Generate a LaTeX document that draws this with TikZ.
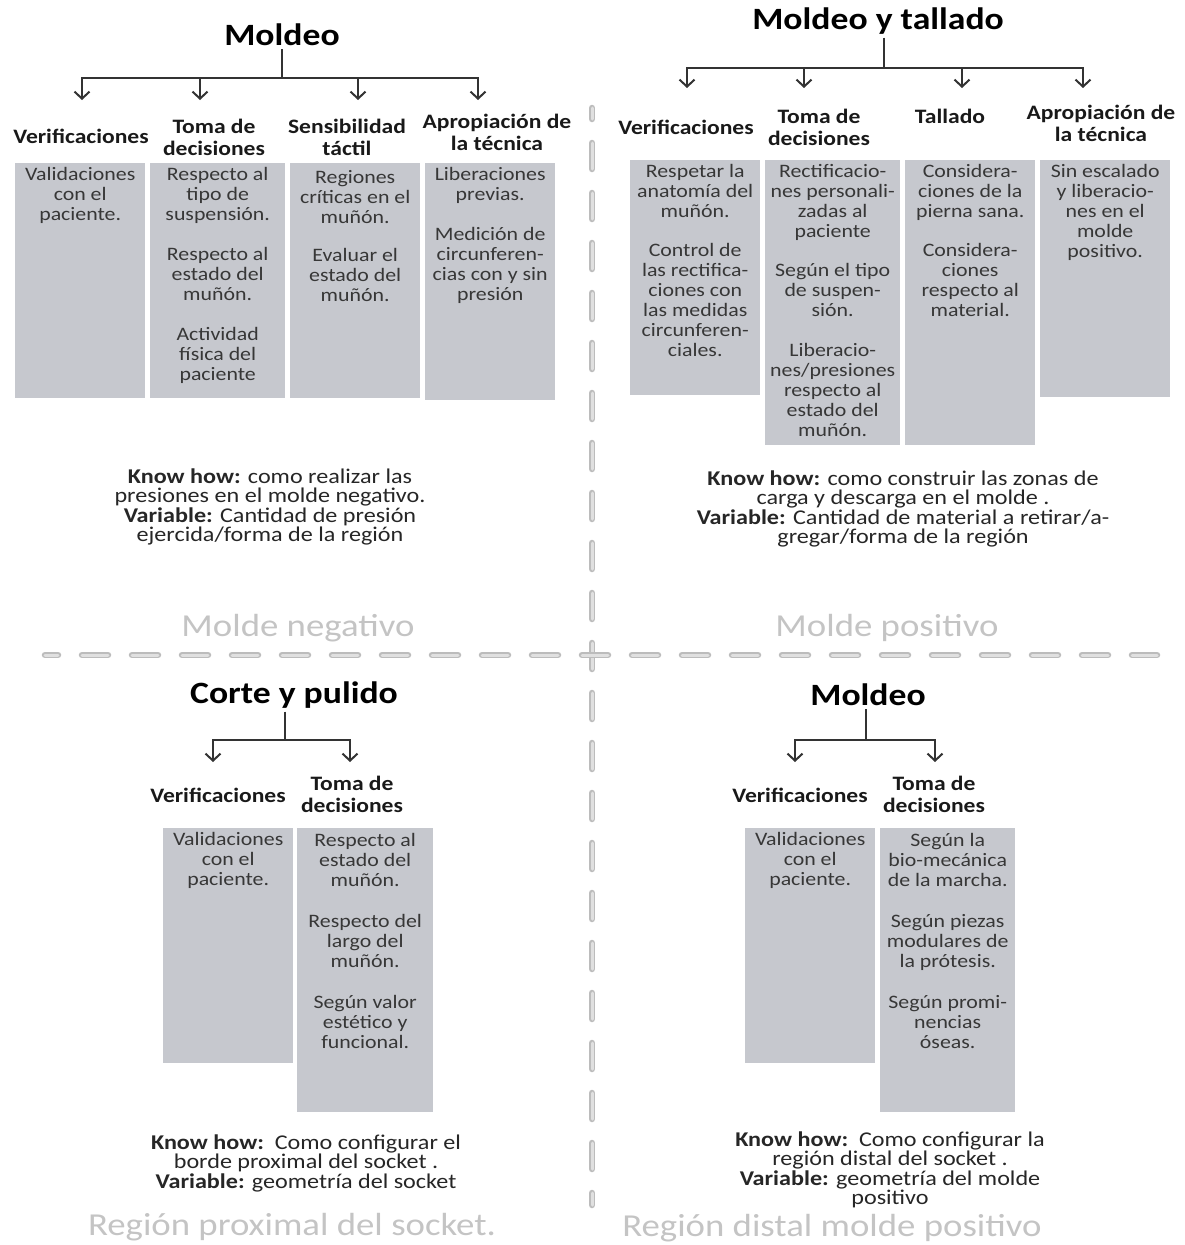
\documentclass[tikz,border=0pt]{standalone}
\usepackage{fontspec}
\setmainfont{Carlito}[FakeStretch=1.15]
\usetikzlibrary{arrows.meta, positioning}

\definecolor{cardgray}{RGB}{198,200,206}
\definecolor{dashgray}{RGB}{188,188,188}
\definecolor{dashfill}{RGB}{224,224,224}
\definecolor{regiongray}{RGB}{196,196,196}
\definecolor{inkgray}{RGB}{55,55,55}

% tight lines in the cards, no extra \lineskip
\lineskiplimit=-20pt

\begin{document}
\begin{tikzpicture}[
    x=1pt, y=-1pt,
    every node/.style={inner sep=0pt},
    heading/.style={font=\fontsize{31}{34}\selectfont\bfseries, inner sep=3pt},
    head/.style={font=\fontsize{20.5}{22}\selectfont\bfseries, align=center, text=black!90},
    card/.style 2 args={fill=cardgray, anchor=north west, minimum width=#1, minimum height=#2},
    cardtext/.style={font=\fontsize{19}{20}\selectfont, align=center, anchor=north, text=inkgray},
    knowhow/.style={font=\fontsize{21}{19.5}\selectfont, align=center, text=black!85},
    region/.style={font=\fontsize{32}{34}\selectfont, text=regiongray},
    stem/.style={draw=black!80, line width=2pt},
    branch/.style={stem, -{Straight Barb[length=7pt, width=15pt]}},
    divider/.style={line cap=round, dash pattern=on 26pt off 24pt, draw=dashgray, line width=6.5pt},
    dividerin/.style={line cap=round, dash pattern=on 26pt off 24pt, draw=dashfill, line width=3pt}
]
\useasboundingbox (0,0) rectangle (1185,1245);

% Quadrant dividers
\coordinate (div_top) at (592,108);
\coordinate (div_bot) at (592,1205);
\coordinate (div_left) at (45,655);
\coordinate (div_right) at (1157,655);
\draw[divider, dash phase=15pt] (div_top) -- (div_bot);
\draw[dividerin, dash phase=15pt] (div_top) -- (div_bot);
\draw[divider, dash phase=13pt] (div_left) -- (div_right);
\draw[dividerin, dash phase=13pt] (div_left) -- (div_right);

% ---------------- Top left: Moldeo ----------------
\node[heading] (tl_title) at (282,35) {Moldeo};
\coordinate (tl_fork) at (282,78);
\coordinate (tl_a1) at (82,100);
\coordinate (tl_a2) at (200,100);
\coordinate (tl_a3) at (358,100);
\coordinate (tl_a4) at (478,100);
\draw[stem] (tl_title.south) -- (tl_fork);
\foreach \a in {tl_a1,tl_a2,tl_a3,tl_a4}
    \draw[branch] (tl_fork) -| (\a);

\node[head] (tl_h1) at (81,136) {Verificaciones};
\node[head] (tl_h2) at (214,137) {Toma de\\decisiones};
\node[head] (tl_h3) at (347,137) {Sensibilidad\\táctil};
\node[head] (tl_h4) at (497,132) {Apropiación de\\la técnica};

\node[card={130pt}{235pt}] (tl_b1) at (15,163) {};
\node[card={135pt}{235pt}] (tl_b2) at (150,163) {};
\node[card={130pt}{235pt}] (tl_b3) at (290,163) {};
\node[card={130pt}{237pt}] (tl_b4) at (425,163) {};

\node[cardtext] (tl_t1) at ([yshift=-4pt]tl_b1.north) {Validaciones\\con el\\paciente.};
\node[cardtext] (tl_t2) at ([yshift=-4pt]tl_b2.north) {Respecto al\\tipo de\\suspensión.\\[20pt]Respecto al\\estado del\\muñón.\\[20pt]Actividad\\física del\\paciente};
\node[cardtext] (tl_t3) at ([yshift=-7pt]tl_b3.north) {Regiones\\críticas en el\\muñón.\\[18pt]Evaluar el\\estado del\\muñón.};
\node[cardtext] (tl_t4) at ([yshift=-4pt]tl_b4.north) {Liberaciones\\previas.\\[20pt]Medición de\\circunferen-\\cias con y sin\\presión};

\node[knowhow] (tl_know) at (270,507) {\textbf{Know how:} como realizar las\\presiones en el molde negativo.\\\textbf{Variable:} Cantidad de presión\\ejercida/forma de la región};
\node[region] (tl_region) at (298,628) {Molde negativo};

% ---------------- Top right: Moldeo y tallado ----------------
\node[heading] (tr_title) at (878,21) {Moldeo y tallado};
\coordinate (tr_fork) at (884,68);
\coordinate (tr_a1) at (687,88);
\coordinate (tr_a2) at (804,88);
\coordinate (tr_a3) at (962,88);
\coordinate (tr_a4) at (1083,88);
\draw[stem] (tr_title.south -| tr_fork) -- (tr_fork);
\foreach \a in {tr_a1,tr_a2,tr_a3,tr_a4}
    \draw[branch] (tr_fork) -| (\a);

\node[head] (tr_h1) at (686,127) {Verificaciones};
\node[head] (tr_h2) at (819,127) {Toma de\\decisiones};
\node[head] (tr_h3) at (950,116) {Tallado};
\node[head] (tr_h4) at (1101,123) {Apropiación de\\la técnica};

\node[card={130pt}{235pt}] (tr_b1) at (630,160) {};
\node[card={135pt}{285pt}] (tr_b2) at (765,160) {};
\node[card={130pt}{285pt}] (tr_b3) at (905,160) {};
\node[card={130pt}{237pt}] (tr_b4) at (1040,160) {};

\node[cardtext] (tr_t1) at ([yshift=-4pt]tr_b1.north) {Respetar la\\anatomía del\\muñón.\\[19pt]Control de\\las rectifica-\\ciones con\\las medidas\\circunferen-\\ciales.};
\node[cardtext] (tr_t2) at ([yshift=-4pt]tr_b2.north) {Rectificacio-\\nes personali-\\zadas al\\paciente\\[19pt]Según el tipo\\de suspen-\\sión.\\[20pt]Liberacio-\\nes/presiones\\respecto al\\estado del\\muñón.};
\node[cardtext] (tr_t3) at ([yshift=-4pt]tr_b3.north) {Considera-\\ciones de la\\pierna sana.\\[19pt]Considera-\\ciones\\respecto al\\material.};
\node[cardtext] (tr_t4) at ([yshift=-4pt]tr_b4.north) {Sin escalado\\y liberacio-\\nes en el\\molde\\positivo.};

\node[knowhow] (tr_know) at (903,509) {\textbf{Know how:} como construir las zonas de\\carga y descarga en el molde .\\\textbf{Variable:} Cantidad de material a retirar/a-\\gregar/forma de la región};
\node[region] (tr_region) at (887,628) {Molde positivo};

% ---------------- Bottom left: Corte y pulido ----------------
\node[heading] (bl_title) at (294,695) {Corte y pulido};
\coordinate (bl_fork) at (285,740);
\coordinate (bl_a1) at (213,762);
\coordinate (bl_a2) at (350,762);
\draw[stem] (bl_title.south -| bl_fork) -- (bl_fork);
\foreach \a in {bl_a1,bl_a2}
    \draw[branch] (bl_fork) -| (\a);

\node[head] (bl_h1) at (218,795) {Verificaciones};
\node[head] (bl_h2) at (352,794) {Toma de\\decisiones};

\node[card={130pt}{235pt}] (bl_b1) at (163,828) {};
\node[card={136pt}{284pt}] (bl_b2) at (297,828) {};

\node[cardtext] (bl_t1) at ([yshift=-4pt]bl_b1.north) {Validaciones\\con el\\paciente.};
\node[cardtext] (bl_t2) at ([yshift=-5pt]bl_b2.north) {Respecto al\\estado del\\muñón.\\[21pt]Respecto del\\largo del\\muñón.\\[21pt]Según valor\\estético y\\funcional.};

\node[knowhow] (bl_know) at (306,1163) {\textbf{Know how:}\ \ Como configurar el\\borde proximal del socket .\\\textbf{Variable:} geometría del socket};
\node[region] (bl_region) at (292,1227) {Región proximal del socket.};

% ---------------- Bottom right: Moldeo ----------------
\node[heading] (br_title) at (868,695) {Moldeo};
\coordinate (br_fork) at (866,740);
\coordinate (br_a1) at (795,762);
\coordinate (br_a2) at (935,762);
\draw[stem] (br_title.south -| br_fork) -- (br_fork);
\foreach \a in {br_a1,br_a2}
    \draw[branch] (br_fork) -| (\a);

\node[head] (br_h1) at (800,795) {Verificaciones};
\node[head] (br_h2) at (934,794) {Toma de\\decisiones};

\node[card={130pt}{235pt}] (br_b1) at (745,828) {};
\node[card={135pt}{284pt}] (br_b2) at (880,828) {};

\node[cardtext] (br_t1) at ([yshift=-4pt]br_b1.north) {Validaciones\\con el\\paciente.};
\node[cardtext] (br_t2) at ([yshift=-5pt]br_b2.north) {Según la\\bio-mecánica\\de la marcha.\\[21pt]Según piezas\\modulares de\\la prótesis.\\[21pt]Según promi-\\nencias\\óseas.};

\node[knowhow] (br_know) at (890,1170) {\textbf{Know how:}\ \ Como configurar la\\región distal del socket .\\\textbf{Variable:} geometría del molde\\positivo};
\node[region] (br_region) at (832,1228) {Región distal molde positivo};

\end{tikzpicture}
\end{document}
